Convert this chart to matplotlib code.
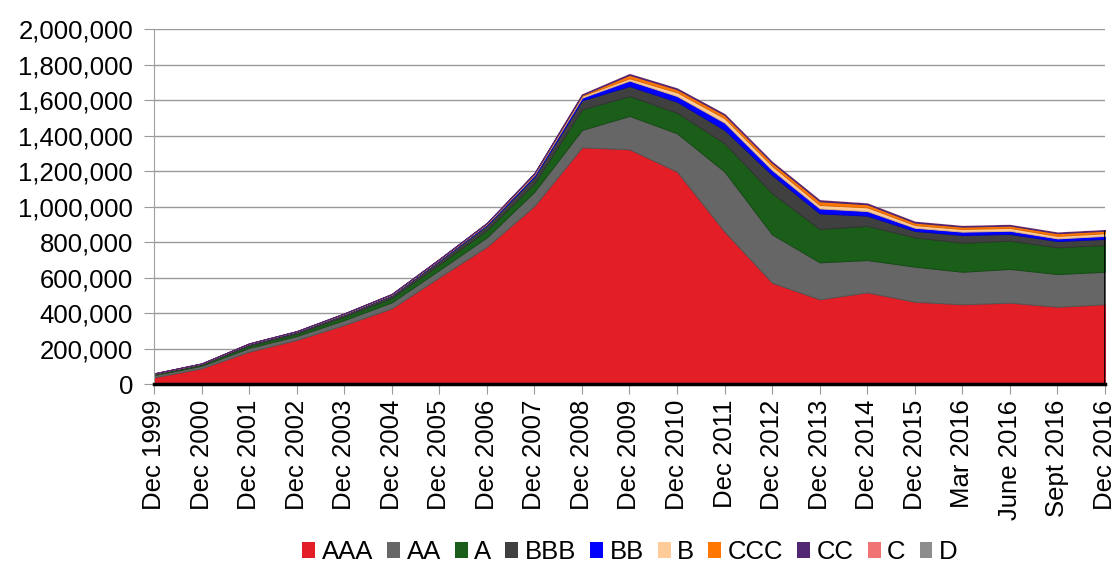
import matplotlib.pyplot as plt
import numpy as np
from matplotlib.patches import Patch
from matplotlib.ticker import FuncFormatter, MultipleLocator

plt.rcParams['font.family'] = ['Liberation Sans', 'DejaVu Sans']

categories = ['Dec 1999', 'Dec 2000', 'Dec 2001', 'Dec 2002', 'Dec 2003', 'Dec 2004',
              'Dec 2005', 'Dec 2006', 'Dec 2007', 'Dec 2008', 'Dec 2009', 'Dec 2010',
              'Dec 2011', 'Dec 2012', 'Dec 2013', 'Dec 2014', 'Dec 2015', 'Mar 2016',
              'June 2016', 'Sept 2016', 'Dec 2016']

# values in thousands
aaa = [39, 90, 184, 250, 334, 428, 603, 775, 1005, 1335, 1324, 1198, 860, 572, 479, 518, 465, 451, 460, 437, 451]
aa = [13, 14, 21, 22, 28, 34, 41, 53, 80, 98, 188, 216, 338, 272, 208, 182, 198, 183, 190, 184, 183]
a = [5, 7, 13, 15, 20, 25, 32, 41, 47, 116, 112, 116, 160, 232, 188, 193, 165, 164, 159, 151, 151]
bbb = [3, 5, 9, 9, 13, 16, 22, 28, 38, 51, 56, 62, 75, 103, 88, 57, 36, 43, 38, 35, 34]
bb = [1, 1, 2, 2, 2, 3, 4, 6, 10, 15, 31, 32, 41, 28, 28, 26, 18, 19, 18, 15, 17]
b = [0, 0, 1, 1, 1, 1, 2, 3, 5, 10, 13, 21, 25, 23, 19, 21, 15, 15, 16, 14, 15]
ccc = [0, 0, 0, 0, 1, 1, 1, 2, 3, 5, 19, 17, 18, 18, 21, 17, 14, 13, 13, 15, 14]
cc = [1, 1, 1, 1, 1, 2, 2, 2, 3, 3, 5, 5, 5, 5, 6, 5, 5, 4, 4, 4, 4]
c = [0, 0, 0, 0, 0, 0, 0, 0, 0, 1, 1, 1, 1, 1, 1, 1, 1, 1, 1, 1, 1]
d = [0] * 21

labels = ['AAA', 'AA', 'A', 'BBB', 'BB', 'B', 'CCC', 'CC', 'C', 'D']
colors = ['#E31E26', '#666666', '#1A5E1A', '#404040', '#0000FF',
          '#FFCC99', '#FF7700', '#512773', '#F07474', '#8C8C8C']
edges = ['#B01820', '#555555', '#154A15', '#333333', '#0000CC',
         '#E0B080', '#DD6600', '#512773', 'none', 'none']

series = np.array([aaa, aa, a, bbb, bb, b, ccc, cc, c, d], dtype=float) * 1000
x = np.arange(len(categories))

fig = plt.figure(figsize=(11.19, 5.62), dpi=100)
ax = fig.add_axes([0.1376, 0.3162, 0.8499, 0.6317])

polys = ax.stackplot(x, series, colors=colors, linewidth=0.7)
for p, ec in zip(polys, edges):
    p.set_edgecolor(ec)

total = series.sum(axis=0)
ax.vlines(x[-1], 0, total[-1], color='black', linewidth=2, zorder=3)

ax.set_xlim(x[0], x[-1])
ax.set_ylim(0, 2000000)
ax.yaxis.set_major_locator(MultipleLocator(200000))
ax.yaxis.set_major_formatter(FuncFormatter(lambda v, pos: f'{int(v):,}'))
ax.grid(axis='y', color='#999999', linewidth=1)
ax.set_axisbelow(True)

ax.set_xticks(x)
ax.set_xticklabels(categories, rotation=90, fontsize=18.5)
ax.tick_params(axis='y', labelsize=18.5, length=7, color='#999999', pad=8)
ax.tick_params(axis='x', length=7, color='#999999', pad=4)

for side in ['top', 'right']:
    ax.spines[side].set_visible(False)
ax.spines['left'].set_color('#A0A0A0')
ax.spines['bottom'].set_color('black')
ax.spines['bottom'].set_linewidth(2.5)
ax.spines['bottom'].set_zorder(4)

handles = [Patch(facecolor=col, edgecolor='none') for col in colors]
fig.legend(handles, labels, loc='center', bbox_to_anchor=(0.563, 1 - 552 / 562),
           ncol=10, frameon=False, fontsize=18.5, handlelength=0.5, handleheight=0.6,
           handletextpad=0.25, columnspacing=0.55)

fig.savefig('out.png', dpi=100)
